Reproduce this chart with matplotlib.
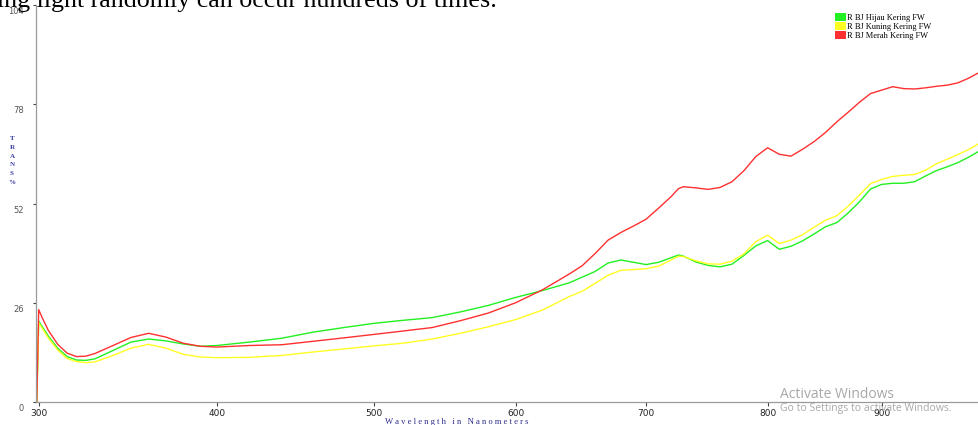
import numpy as np
import matplotlib.pyplot as plt
import matplotlib.transforms as mtransforms
from matplotlib.patches import Patch

# transmission spectra, wavelength in nm, T %
wavelength = [299, 300, 302, 305, 310, 315, 320, 325, 330, 340, 350, 360, 370, 380,
              390, 400, 420, 440, 460, 480, 500, 520, 540, 560, 580, 600, 620, 640,
              650, 660, 670, 680, 690, 700, 710, 720, 726, 730, 740, 750, 760, 770,
              780, 790, 800, 810, 820, 830, 840, 850, 860, 870, 880, 890, 900, 910,
              920, 930, 940, 950, 960, 970, 980, 990]

hijau = [0, 21.2, 19.6, 17.3, 14.1, 11.9, 11.0, 10.9, 11.3, 13.5, 15.7, 16.5, 16.0, 15.2,
         14.6, 14.8, 15.7, 16.7, 18.3, 19.5, 20.6, 21.4, 22.1, 23.6, 25.3, 27.4, 29.2, 31.2,
         32.7, 34.2, 36.4, 37.2, 36.6, 36.0, 36.6, 37.8, 38.5, 38.2, 36.7, 35.8, 35.4, 36.1,
         38.4, 40.9, 42.3, 40.0, 40.8, 42.2, 44.0, 45.9, 47.0, 49.5, 52.4, 55.8, 57.0, 57.3,
         57.3, 57.7, 59.2, 60.6, 61.6, 62.7, 64.1, 65.7]

kuning = [0, 20.8, 19.2, 16.8, 13.6, 11.4, 10.6, 10.3, 10.5, 12.2, 14.1, 15.1, 14.1, 12.5,
          11.8, 11.6, 11.7, 12.2, 13.1, 13.9, 14.7, 15.4, 16.5, 18.0, 19.7, 21.6, 24.1, 27.6,
          29.0, 31.1, 33.2, 34.5, 34.7, 34.9, 35.6, 37.2, 38.2, 38.1, 37.0, 36.2, 36.1, 36.9,
          38.8, 42.0, 43.7, 41.5, 42.4, 43.8, 45.8, 47.6, 48.8, 51.3, 54.2, 57.2, 58.3, 59.1,
          59.4, 59.6, 60.7, 62.4, 63.6, 64.8, 66.1, 67.7]

merah = [0, 24.2, 21.9, 18.8, 15.1, 12.8, 11.9, 12.0, 12.7, 14.8, 16.9, 18.0, 17.0, 15.4,
         14.6, 14.4, 14.8, 15.0, 15.9, 16.8, 17.7, 18.6, 19.5, 21.3, 23.3, 26.0, 29.4, 33.5,
         35.7, 38.9, 42.4, 44.4, 46.1, 47.9, 50.8, 53.8, 55.9, 56.4, 56.1, 55.7, 56.2, 57.7,
         60.6, 64.3, 66.6, 64.9, 64.4, 66.2, 68.2, 70.6, 73.4, 75.9, 78.5, 80.8, 81.7, 82.6,
         82.1, 82.0, 82.3, 82.7, 83.0, 83.6, 84.8, 86.3]

labels = ['R BJ Hijau Kering FW', 'R BJ Kuning Kering FW', 'R BJ Merah Kering FW']
colors = ['#22f022', '#ffff22', '#ff3030']
xticks = [300, 400, 500, 600, 700, 800, 900]
yticks = [0, 26, 52, 78, 104]

fig = plt.figure(figsize=(9.79, 4.25), dpi=100)
ax = fig.add_axes([36 / 979, 1 - 402 / 425, 1 - 36 / 979, 397 / 425])

for ys, c in zip([hijau, kuning, merah], colors):
    ax.plot(wavelength, ys, color=c, lw=1.0)

# the instrument spreads the wavelength axis on a square-root scale
ax.set_xscale('function', functions=(lambda x: np.sqrt(np.clip(x, 0, None)),
                                     lambda x: x ** 2))
ax.set_xlim(298.6, 990)
ax.set_ylim(0, 104)
ax.set_xticks(xticks)
ax.set_yticks(yticks)
ax.minorticks_off()

for s in ['top', 'right']:
    ax.spines[s].set_visible(False)
for s in ['left', 'bottom']:
    ax.spines[s].set_color('#9a9a9a')
    ax.spines[s].set_linewidth(0.9)

ax.tick_params(axis='x', length=3, width=0.8, color='#444444', pad=2,
               labelsize=6.5, labelcolor='#222222')
ax.tick_params(axis='y', length=2.5, width=0.8, color='#444444', pad=6,
               labelsize=6, labelcolor='#555555')
# y labels sit a little under their ticks
shift = mtransforms.ScaledTranslation(0, -1.5 / 72, fig.dpi_scale_trans)
for lab in ax.get_yticklabels():
    lab.set_va('top')
    lab.set_transform(lab.get_transform() + shift)

# stacked axis title and spaced x title
fig.text(12 / 979, 1 - 136 / 425, 'T\nR\nA\nN\nS\n%', ha='center', va='top',
         fontsize=5, fontweight='bold', color='#3a3aa8', family='Liberation Serif',
         linespacing=1.95)
fig.text(457 / 979, 1 - 421.5 / 425, ' '.join('Wavelength in Nanometers'),
         ha='center', va='center', fontsize=6.2, color='#2c2c8c',
         family='Liberation Serif')

handles = [Patch(facecolor=c, edgecolor='none') for c in colors]
fig.legend(handles, labels, loc='upper left', bbox_to_anchor=(835 / 979, 1 - 13 / 425),
           frameon=False, prop={'family': 'Liberation Serif', 'size': 6},
           handlelength=1.3, handleheight=1.15, handletextpad=0.15, labelspacing=0.0,
           borderpad=0, borderaxespad=0)

# leftover text from the page above and the OS watermark
fig.text(-3 / 979, 1 - 7 / 425, 'ing light randomly can occur hundreds of times.',
         ha='left', va='baseline', fontsize=18.7, color='black', family='Liberation Serif')
fig.text(780 / 979, 1 - 395 / 425, 'Activate Windows', ha='left', va='center',
         fontsize=10, color='#a8a8a8', family='Open Sans')
fig.text(780 / 979, 1 - 409 / 425, 'Go to Settings to activate Windows.', ha='left',
         va='center', fontsize=7.5, color='#a8a8a8', family='Open Sans')

fig.savefig('out.png', dpi=100)
